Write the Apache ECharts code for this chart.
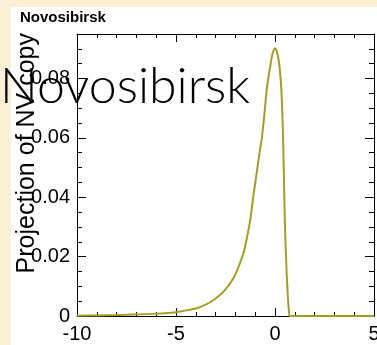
<!DOCTYPE html>
<html>
<head>
<meta charset="utf-8">
<script src="https://cdn.jsdelivr.net/npm/echarts@6/dist/echarts.min.js"></script>
<style>
  html, body { margin: 0; padding: 0; background: #FBF0D5; }
  #chart { width: 377px; height: 345px; }
</style>
</head>
<body>
<div id="chart"></div>
<script>
// Projected Novosibirsk shape: x positions and heights of the curve
const curveX = [-10, -9, -8, -7.5, -6, -5, -4.5, -4, -3.5, -3.1, -2.6, -2.1, -1.8, -1.55, -1.4, -1.25,
  -1.1, -0.93, -0.76, -0.67, -0.55, -0.42, -0.25, -0.12, 0, 0.1, 0.2, 0.27, 0.32, 0.36, 0.4, 0.43,
  0.46, 0.49, 0.53, 0.58, 0.64, 0.71, 0.76, 5];
const curveY = [0.0001, 0.0002, 0.0003, 0.0004, 0.0008, 0.0013, 0.0019, 0.0025, 0.0038, 0.0054, 0.0082,
  0.0127, 0.0172, 0.0222, 0.027, 0.0323, 0.0401, 0.048, 0.0558, 0.0597, 0.067, 0.076, 0.0838, 0.0884,
  0.0902, 0.089, 0.0855, 0.081, 0.0765, 0.07, 0.062, 0.053, 0.044, 0.034, 0.025, 0.016, 0.0075, 0.0013,
  0, 0];

// Axis ranges
const xRange = [-10, 5];
const yRange = [0, 0.095];
const xMajor = 5;
const yMajor = 0.02;
const yMinor = 0.005;

const titleText = 'Novosibirsk';
const yTitle = 'Projection of NV copy';

const chart = echarts.init(document.getElementById('chart'), null, { renderer: 'canvas' });

const lineStyle = { color: '#000', width: 1 };
const labelFont = { fontFamily: 'Liberation Sans', fontSize: 20, color: '#000' };

function yAxisDef(position, interval, tickLen, withLabels, withLine) {
  return {
    type: 'value', position: position, min: yRange[0], max: yRange[1], interval: interval,
    axisLine: { show: withLine, onZero: false, lineStyle: lineStyle },
    axisTick: { show: true, inside: true, length: tickLen, lineStyle: lineStyle },
    axisLabel: withLabels ? Object.assign({
      show: true, margin: 7, showMaxLabel: false, hideOverlap: false,
      formatter: v => (v === 0 ? '0' : v.toFixed(2))
    }, labelFont) : { show: false },
    splitLine: { show: false }
  };
}

function xAxisDef(position, withLabels) {
  return {
    type: 'value', position: position, min: xRange[0], max: xRange[1], interval: xMajor,
    axisLine: { show: true, onZero: false, lineStyle: lineStyle },
    axisTick: { show: true, inside: true, length: 8, lineStyle: lineStyle },
    minorTick: { show: true, splitNumber: 5, length: 4, lineStyle: lineStyle },
    axisLabel: withLabels ? Object.assign({
      show: true, margin: 8, hideOverlap: false, formatter: v => String(v)
    }, labelFont) : { show: false },
    splitLine: { show: false }, minorSplitLine: { show: false }
  };
}

const option = {
  backgroundColor: '#FBF0D5',
  animation: false,
  grid: { left: 77, top: 34, right: 3, bottom: 29, containLabel: false, outerBoundsMode: 'none' },
  xAxis: [xAxisDef('bottom', true), xAxisDef('top', false)],
  yAxis: [
    yAxisDef('left', yMajor, 9, true, true),
    yAxisDef('left', yMinor, 5, false, false),
    yAxisDef('right', yMajor, 9, false, true),
    yAxisDef('right', yMinor, 5, false, false)
  ],
  series: [{
    type: 'line',
    xAxisIndex: 0, yAxisIndex: 0,
    data: curveX.map((x, i) => [x, curveY[i]]),
    showSymbol: false,
    smooth: 0.25,
    lineStyle: { color: '#A59F1F', width: 2 },
    z: 3
  }],
  graphic: [
    {
      type: 'rect', z: -10, silent: true,
      shape: { x: 11, y: 7, width: 366, height: 338 },
      style: { fill: '#FFFFFF' }
    },
    {
      type: 'text', z: 10, left: 20, top: 10,
      style: { text: titleText, font: 'bold 15px "Liberation Sans"', fill: '#000' }
    },
    {
      type: 'text', z: 10, x: 40, y: 33, rotation: Math.PI / 2,
      style: {
        text: yTitle, font: '25px "Liberation Sans"', fill: '#000',
        textAlign: 'right', textVerticalAlign: 'bottom'
      }
    },
    {
      type: 'text', z: 10, x: 0, y: 112,
      style: {
        text: titleText, font: '300 50px "Lato"', fill: '#000',
        textAlign: 'left', textVerticalAlign: 'bottom'
      }
    }
  ]
};

chart.setOption(option);
</script>
</body>
</html>
